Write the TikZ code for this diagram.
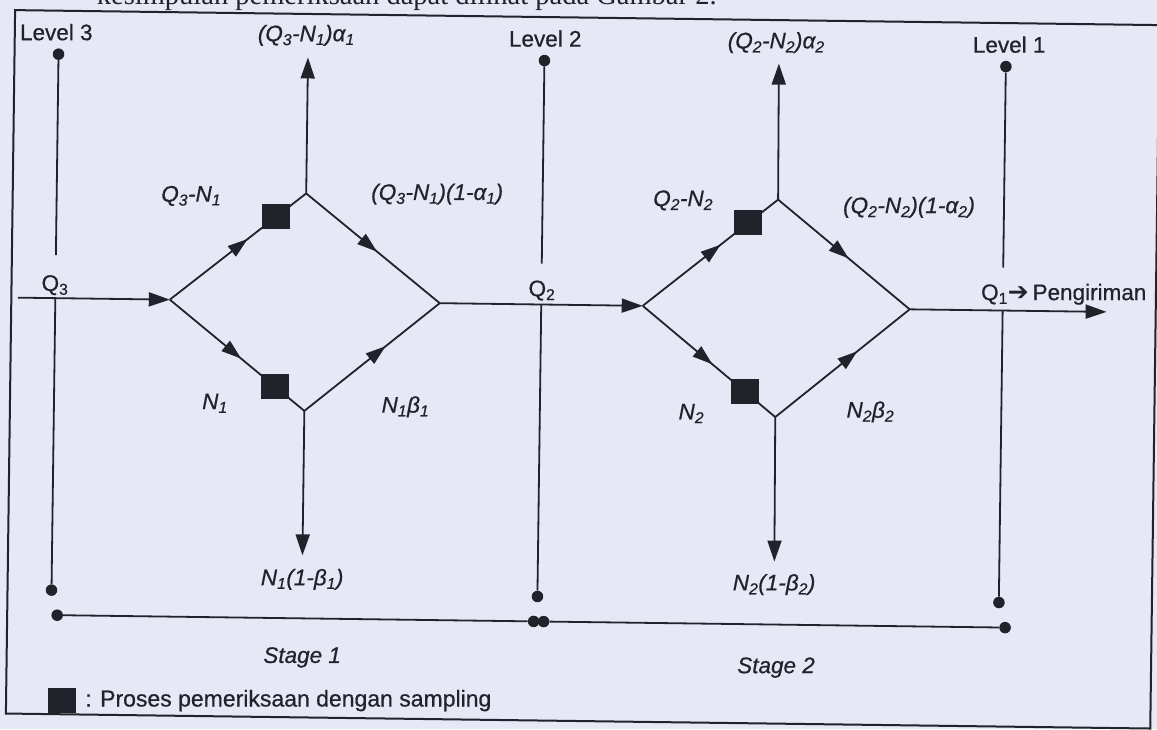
\documentclass[tikz,border=0pt]{standalone}
\usepackage{fontspec}
\setmainfont{Liberation Sans}[FakeBold=0.6]
\newfontfamily\headserif{Liberation Serif}
\newfontfamily\symfont{DejaVu Sans}
\usetikzlibrary{arrows.meta,decorations.markings,calc}
\definecolor{bg}{RGB}{231,231,246}
\definecolor{ink}{RGB}{34,34,42}
\tikzset{
  ln/.style={draw=ink, line width=1.8pt},
  arr/.style={ln, -{Triangle[length=21pt,width=14pt]}},
  midarr/.style={ln, postaction={decorate}, decoration={markings, mark=at position #1 with {\arrow{Triangle[length=20pt,width=13pt]}}}},
  midarr/.default=0.57,
  dot/.style={circle, fill=ink, inner sep=0pt, minimum size=11.5pt},
  sq/.style={fill=ink, inner sep=0pt, minimum width=28pt, minimum height=25pt},
  txt/.style={text=ink, inner sep=1pt, font=\fontsize{22.5}{26}\selectfont},
  itx/.style={text=ink, inner sep=1pt, font=\fontsize{22.5}{26}\selectfont\itshape},
}
\begin{document}
\begin{tikzpicture}[x=1pt,y=-1pt,color=ink]
\useasboundingbox (0,0) rectangle (1157,729);
\fill[bg] (0,0) rectangle (1157,729);
\begin{scope}[rotate around={-0.75:(578,364)}]
% heading (cut off at the top edge, as in the scan)
\node[anchor=base west, inner sep=0pt, text=ink, font=\headserif\fontsize{28.5}{32}\selectfont] (head) at (92,11) {kesimpulan pemeriksaan dapat dilihat pada Gambar 2.};
% frame
\draw[ink, line width=2pt] (10.5,17.5) rectangle (1155,721);

% level 3
\node[txt] (lev3) at (52,39) {Level 3};
\node[dot] (d3t) at (54.5,61) {};
\node[dot] (d3b) at (54.5,597) {};
\node[txt] (q3) at (54,292) {Q\textsubscript{3}};
\coordinate (g3) at (54.5,262);
\coordinate (f3) at (54.5,305);
\draw[ln] (d3t) -- (g3);
\draw[ln] (f3) -- (d3b);

% level 2
\node[txt] (lev2) at (541,39) {Level 2};
\node[dot] (d2t) at (540.5,61) {};
\node[dot] (d2b) at (540.5,597) {};
\node[txt] (q2) at (541,291) {Q\textsubscript{2}};
\coordinate (g2) at (540.5,264);
\coordinate (f2) at (540.5,305);
\draw[ln] (d2t) -- (g2);
\draw[ln] (f2) -- (d2b);

% level 1
\node[txt] (lev1) at (1005,39) {Level 1};
\node[dot] (d1t) at (1002,61) {};
\node[dot] (d1b) at (1002,597) {};
\node[txt, anchor=west, inner sep=0pt] (q1) at (980,289) {Q\textsubscript{1}{\symfont\fontsize{25}{26}\selectfont ➔}\,Pengiriman};
\coordinate (g1) at (1002,262);
\coordinate (f1) at (1002,305);
\draw[ln] (d1t) -- (g1);
\draw[ln] (f1) -- (d1b);

% stage line
\node[dot] (s0) at (60.5,622) {};
\node[dot] (sm1) at (537,622) {};
\node[dot] (sm2) at (547,622) {};
\node[dot] (s2) at (1008.5,622) {};
\draw[ln] (s0) -- (sm1);
\draw[ln] (sm2) -- (s2);
\node[itx] (st1) at (306,661) {Stage 1};
\node[itx] (st2) at (780,665) {Stage 2};

% diamond 1
\coordinate (in) at (17,305);
\coordinate (A1) at (169,305);
\coordinate (T1) at (304,197);
\coordinate (R1) at (439,305);
\coordinate (B1) at (305,414.5);
\coordinate (U1) at (304,61);
\coordinate (D1) at (305,559);
\draw[arr] (in) -- (A1);
\draw[midarr=0.57] (A1) -- (T1);
\draw[midarr=0.53] (A1) -- (B1);
\draw[midarr=0.53] (T1) -- (R1);
\draw[midarr=0.6] (B1) -- (R1);
\draw[arr] (T1) -- (U1);
\draw[arr] (B1) -- (D1);
\node[sq] (sq1t) at ($(A1)!0.78!(T1)$) {};
\node[sq] (sq1b) at ($(A1)!0.78!(B1)$) {};
\node[itx] (lu1) at (302,39) {(Q\textsubscript{3}-N\textsubscript{1})α\textsubscript{1}};
\node[itx] (lq1) at (189,201) {Q\textsubscript{3}-N\textsubscript{1}};
\node[itx] (lr1) at (435,196) {(Q\textsubscript{3}-N\textsubscript{1})(1-α\textsubscript{1})};
\node[itx] (ln1) at (215.5,408) {N\textsubscript{1}};
\node[itx] (lb1) at (406,409) {N\textsubscript{1}β\textsubscript{1}};
\node[itx] (ld1) at (305,583) {N\textsubscript{1}(1-β\textsubscript{1})};

% between stages
\coordinate (A2) at (642,305);
\draw[arr] (R1) -- (A2);

% diamond 2
\coordinate (T2) at (776,197);
\coordinate (R2) at (909,305);
\coordinate (B2) at (776,414.5);
\coordinate (U2) at (775,61);
\coordinate (D2) at (777,559);
\coordinate (out) at (1106,305);
\draw[midarr=0.575] (A2) -- (T2);
\draw[midarr=0.525] (A2) -- (B2);
\draw[midarr=0.535] (T2) -- (R2);
\draw[midarr=0.61] (B2) -- (R2);
\draw[arr] (T2) -- (U2);
\draw[arr] (B2) -- (D2);
\draw[arr] (R2) -- (out);
\node[sq] (sq2t) at ($(A2)!0.78!(T2)$) {};
\node[sq] (sq2b) at ($(A2)!0.77!(B2)$) {};
\node[itx] (lu2) at (772,40) {(Q\textsubscript{2}-N\textsubscript{2})α\textsubscript{2}};
\node[itx] (lq2) at (681,199) {Q\textsubscript{2}-N\textsubscript{2}};
\node[itx] (lr2) at (907,203) {(Q\textsubscript{2}-N\textsubscript{2})(1-α\textsubscript{2})};
\node[itx] (ln2) at (692,412) {N\textsubscript{2}};
\node[itx] (lb2) at (871,408) {N\textsubscript{2}β\textsubscript{2}};
\node[itx] (ld2) at (777,582) {N\textsubscript{2}(1-β\textsubscript{2})};

% legend
\node[sq] (legsq) at (66,707) {};
\node[txt, anchor=west, inner sep=0pt, font=\fontsize{23}{26}\selectfont] (legtxt) at (89.5,707) {: Proses pemeriksaan dengan sampling};
\end{scope}
\end{tikzpicture}
\end{document}
